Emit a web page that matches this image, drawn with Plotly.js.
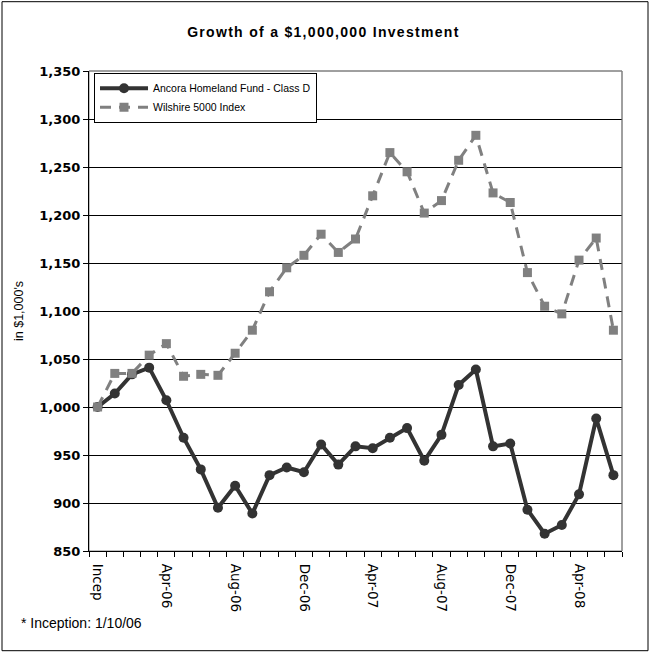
<!DOCTYPE html>
<html>
<head>
<meta charset="utf-8">
<script src="https://cdn.plot.ly/plotly-3.0.1.min.js"></script>
<style>
  html, body { margin: 0; padding: 0; background: #ffffff; }
  #chart { width: 660px; height: 658px; }
  .gtitle { letter-spacing: 1.3px; }
</style>
</head>
<body>
<div id="chart"></div>
<script>
// ---- data ----
const categories = [
  "Incep", "Jan-06", "Feb-06", "Mar-06", "Apr-06", "May-06", "Jun-06", "Jul-06",
  "Aug-06", "Sep-06", "Oct-06", "Nov-06", "Dec-06", "Jan-07", "Feb-07", "Mar-07",
  "Apr-07", "May-07", "Jun-07", "Jul-07", "Aug-07", "Sep-07", "Oct-07", "Nov-07",
  "Dec-07", "Jan-08", "Feb-08", "Mar-08", "Apr-08", "May-08", "Jun-08"
];
const ancoraValues = [
  1000, 1014, 1034, 1041, 1007, 968, 935, 895, 918, 889, 929, 937, 932, 961, 940, 959,
  957, 968, 978, 944, 971, 1023, 1039, 959, 962, 893, 868, 877, 909, 988, 929
];
const wilshireValues = [
  1000, 1035, 1035, 1054, 1066, 1032, 1034, 1033, 1056, 1080, 1120, 1145, 1158, 1180, 1161, 1175,
  1220, 1265, 1245, 1202, 1215, 1257, 1283, 1223, 1213, 1140, 1105, 1097, 1153, 1176, 1080
];
const labeledTicks = ["Incep", "Apr-06", "Aug-06", "Dec-06", "Apr-07", "Aug-07", "Dec-07", "Apr-08"];
const yTickVals = [850, 900, 950, 1000, 1050, 1100, 1150, 1200, 1250, 1300, 1350];
const seriesNames = ["Ancora Homeland Fund - Class D", "Wilshire 5000 Index"];
const chartTitle = "Growth of a $1,000,000 Investment";
const yTitle = "in $1,000's";
const footnote = "* Inception: 1/10/06";

// ---- build ----
const FONT = "Liberation Sans, Arial, sans-serif";
const tickText = categories.map(c => labeledTicks.includes(c) ? c : "");

const traces = [
  {
    type: "scatter", mode: "lines+markers", name: seriesNames[0],
    x: categories, y: ancoraValues,
    line: { color: "#333333", width: 4 },
    marker: { symbol: "circle", size: 10, color: "#333333" }
  },
  {
    type: "scatter", mode: "lines+markers", name: seriesNames[1],
    x: categories, y: wilshireValues,
    line: { color: "#808080", width: 3, dash: "11px,8px" },
    marker: { symbol: "square", size: 9, color: "#808080" }
  }
];

const layout = {
  width: 660, height: 658,
  margin: { l: 89, r: 38, t: 71, b: 107 },
  paper_bgcolor: "#ffffff", plot_bgcolor: "#ffffff",
  font: { family: FONT, color: "#000000" },
  showlegend: true,
  title: {
    text: chartTitle,
    font: { family: FONT, size: 14, color: "#000000", weight: "bold" },
    xref: "container", x: 0.49, xanchor: "center",
    yref: "container", y: 0.951, yanchor: "middle"
  },
  legend: {
    x: 0.0094, y: 0.9965, xanchor: "left", yanchor: "top",
    bgcolor: "#ffffff", bordercolor: "#000000", borderwidth: 1,
    font: { family: FONT, size: 10.5, color: "#000000" },
    itemwidth: 48,
    tracegroupgap: 0
  },
  xaxis: {
    type: "category",
    categoryorder: "array", categoryarray: categories,
    range: [-0.5, categories.length - 0.5],
    tickmode: "array", tickvals: categories, ticktext: tickText,
    tickson: "boundaries",
    ticks: "outside", ticklen: 5, tickcolor: "#000000", tickwidth: 1,
    tickangle: 90, ticklabelstandoff: 9,
    tickfont: { family: "DejaVu Sans, sans-serif", size: 13.5, color: "#000000" },
    showline: true, linecolor: "#000000", linewidth: 1,
    showgrid: false, zeroline: false, automargin: false
  },
  yaxis: {
    range: [850, 1350],
    tickmode: "array", tickvals: yTickVals,
    tickformat: ",d",
    ticks: "outside", ticklen: 5, tickcolor: "#000000", tickwidth: 1,
    tickfont: { family: "DejaVu Sans, sans-serif", size: 13, color: "#000000", weight: "bold" },
    showline: true, linecolor: "#000000", linewidth: 1,
    showgrid: true, gridcolor: "#000000", gridwidth: 1,
    zeroline: false, automargin: false,
    title: { text: yTitle, font: { family: FONT, size: 12.5, color: "#000000" }, standoff: 12 }
  },
  shapes: [
    { type: "rect", xref: "paper", yref: "paper", x0: 0, x1: 1, y0: 0, y1: 1,
      line: { color: "#808080", width: 1 }, layer: "below" },
    { type: "line", xref: "paper", yref: "paper", x0: 0, x1: 1, y0: 1, y1: 1,
      line: { color: "#808080", width: 1 }, layer: "above" },
    { type: "line", xref: "paper", yref: "paper", x0: 1, x1: 1, y0: 0, y1: 1,
      line: { color: "#808080", width: 1 }, layer: "above" },
    { type: "rect", xref: "paper", yref: "paper",
      x0: -0.1632, x1: 1.0488, y0: -0.2077, y1: 1.1444,
      line: { color: "#000000", width: 1 }, layer: "below" }
  ],
  annotations: [
    { text: footnote, xref: "paper", yref: "paper",
      x: -0.132, y: -0.150, xanchor: "left", yanchor: "middle", showarrow: false,
      font: { family: FONT, size: 14, color: "#000000" } }
  ]
};

Plotly.newPlot("chart", traces, layout, { displayModeBar: false, staticPlot: true });
</script>
</body>
</html>
